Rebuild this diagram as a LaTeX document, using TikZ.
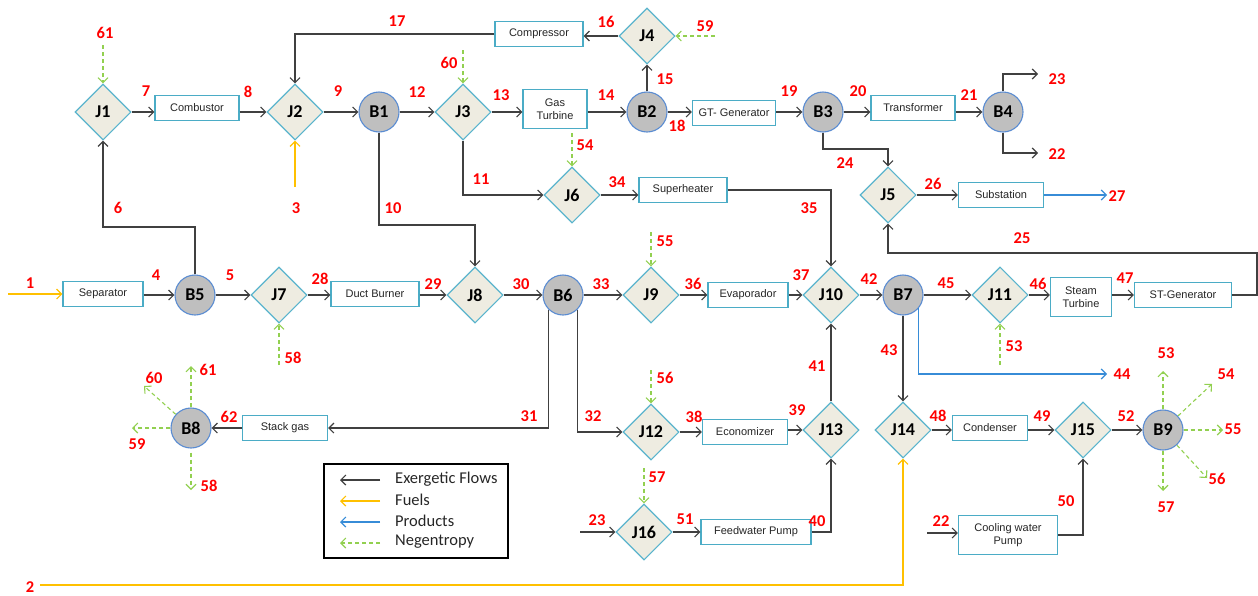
\documentclass[tikz,border=0pt]{standalone}
\usepackage{fontspec}
\setmainfont{Liberation Sans}
\newfontfamily\carl{Carlito}
\usetikzlibrary{arrows.meta,shapes.geometric}
\definecolor{boxc}{RGB}{75,172,198}
\definecolor{jfill}{RGB}{238,236,225}
\definecolor{jc}{RGB}{90,180,205}
\definecolor{bfill}{RGB}{191,191,191}
\definecolor{bc}{RGB}{90,140,210}
\definecolor{flowc}{RGB}{64,64,64}
\definecolor{fuelc}{RGB}{255,192,0}
\definecolor{prodc}{RGB}{55,140,215}
\definecolor{negc}{RGB}{146,208,80}
\definecolor{txtc}{RGB}{38,38,38}
\begin{document}
\begin{tikzpicture}[x=1pt,y=-1pt,
  >={Straight Barb[length=5pt,width=10pt]},
  box/.style={draw=boxc,line width=1.1pt,fill=white,inner sep=1pt,align=center,text=txtc,
    font=\fontsize{11}{13}\selectfont},
  jn/.style={diamond,aspect=1,draw=jc,line width=1.1pt,fill=jfill,minimum width=56pt,minimum height=56pt,
    inner sep=0pt,text=black,font=\carl\bfseries\fontsize{18}{18}\selectfont},
  bn/.style={circle,draw=bc,line width=1.1pt,fill=bfill,minimum size=40pt,inner sep=0pt,text=black,
    font=\carl\bfseries\fontsize{18}{18}\selectfont},
  lbl/.style={text=red,inner sep=0pt,font=\carl\bfseries\fontsize{16.5}{16.5}\selectfont},
  flow/.style={draw=flowc,line width=1.2pt,->},
  fuel/.style={draw=fuelc,line width=1.2pt,->},
  prod/.style={draw=prodc,line width=1.2pt,->},
  neg/.style={draw=negc,line width=1.1pt,dash pattern=on 4pt off 3pt,->},
  legtext/.style={anchor=west,inner sep=0pt,text=txtc,font=\carl\fontsize{16.5}{16.5}\selectfont}]
\useasboundingbox (0,0) rectangle (1258,595);

% ---------- nodes ----------
% row 1
\node[jn] (J1) at (103,112) {J1};
\node[box,minimum width=84pt,minimum height=25pt] (comb) at (197,108) {Combustor};
\node[jn] (J2) at (295,112) {J2};
\node[bn] (B1) at (379,112) {B1};
\node[jn] (J3) at (463,112) {J3};
\node[box,minimum width=64pt,minimum height=39pt] (gt) at (555,109) {Gas\\Turbine};
\node[bn] (B2) at (647,112) {B2};
\node[box,minimum width=83pt,minimum height=25pt] (gtg) at (734,113) {GT- Generator};
\node[bn] (B3) at (823,112) {B3};
\node[box,minimum width=84pt,minimum height=25pt] (trans) at (913,108) {Transformer};
\node[bn] (B4) at (1003,112) {B4};
% top
\node[box,minimum width=88pt,minimum height=25pt] (comp) at (539,34) {Compressor};
\node[jn] (J4) at (647,36) {J4};
% row 1.5
\node[jn] (J6) at (572,195) {J6};
\node[box,minimum width=88pt,minimum height=25pt] (sh) at (683,190) {Superheater};
\node[jn] (J5) at (888,195) {J5};
\node[box,minimum width=85pt,minimum height=25pt] (subst) at (1001,195) {Substation};
% row 2
\node[box,minimum width=80pt,minimum height=25pt] (sep) at (103,294) {Separator};
\node[bn] (B5) at (195,295) {B5};
\node[jn] (J7) at (279,295) {J7};
\node[box,minimum width=88pt,minimum height=25pt] (db) at (375,294) {Duct Burner};
\node[jn] (J8) at (475,295) {J8};
\node[bn] (B6) at (563,295) {B6};
\node[jn] (J9) at (651,295) {J9};
\node[box,minimum width=80pt,minimum height=25pt] (evap) at (748,295) {Evaporador};
\node[jn] (J10) at (831,295) {J10};
\node[bn] (B7) at (903,295) {B7};
\node[jn] (J11) at (1000,295) {J11};
\node[box,minimum width=61pt,minimum height=39pt] (st) at (1081,297) {Steam\\Turbine};
\node[box,minimum width=97pt,minimum height=25pt] (stg) at (1183,295) {ST-Generator};
% row 3
\node[bn] (B8) at (191,428) {B8};
\node[box,minimum width=85pt,minimum height=25pt] (stack) at (285,428) {Stack gas};
\node[jn] (J12) at (651,432) {J12};
\node[box,minimum width=85pt,minimum height=25pt] (econ) at (745,432) {Economizer};
\node[jn] (J13) at (831,430) {J13};
\node[jn] (J14) at (903,430) {J14};
\node[box,minimum width=75pt,minimum height=25pt] (cond) at (990,428) {Condenser};
\node[jn] (J15) at (1083,430) {J15};
\node[bn] (B9) at (1163,430) {B9};
% row 4
\node[jn] (J16) at (644,532) {J16};
\node[box,minimum width=110pt,minimum height=25pt] (fwp) at (756,532) {Feedwater Pump};
\node[box,minimum width=99pt,minimum height=39pt] (cwp) at (1008,535) {Cooling water\\Pump};

% ---------- free ends ----------
\coordinate (c23) at (1038,74);
\coordinate (c22) at (1038,153);
\coordinate (c59) at (715,36);
\coordinate (c60) at (463,50);
\coordinate (c61) at (103,45);
\coordinate (c3) at (295,187);
\coordinate (k10) at (379,225);
\coordinate (k24) at (823,149);
\coordinate (k25) at (1257,253);
\coordinate (c27) at (1107,195);
\coordinate (c1) at (8,294);
\coordinate (k6) at (195,227);
\coordinate (c58) at (279,365);
\coordinate (c55) at (651,232);
\coordinate (c53) at (1000,365);
\coordinate (c44) at (1107,374);
\coordinate (c56) at (651,370);
\coordinate (c57) at (644,468);
\coordinate (c23b) at (580,532);
\coordinate (c22b) at (927,533);
\coordinate (c2) at (40,585);
\coordinate (o61) at (191,366);
\coordinate (o60) at (144,386);
\coordinate (o59) at (132,428);
\coordinate (o58) at (191,490);
\coordinate (o53) at (1163,371);
\coordinate (o54) at (1212,384);
\coordinate (o55) at (1223,430);
\coordinate (o56) at (1207,478);
\coordinate (o57) at (1163,491);

% ---------- connectors ----------
\draw[flow] (J1.east) -- (J1.east -| comb.west);
\draw[flow] (comb.east |- J2.west) -- (J2.west);
\draw[flow] (J2.east) -- (B1.west);
\draw[flow] (B1.east) -- (J3.west);
\draw[flow] (J3.east) -- (J3.east -| gt.west);
\draw[flow] (gt.east |- B2.west) -- (B2.west);
\draw[flow] (B2.east) -- (B2.east -| gtg.west);
\draw[flow] (gtg.east |- B3.west) -- (B3.west);
\draw[flow] (B3.east) -- (B3.east -| trans.west);
\draw[flow] (trans.east |- B4.west) -- (B4.west);
\draw[flow] (B4.north) |- (c23);
\draw[flow] (B4.south) |- (c22);
\draw[flow] (B2.north) -- (J4.south);
\draw[flow] (J4.west) -- (J4.west -| comp.east);
\draw[flow] (comp.west) -| (J2.north);
\draw[neg] (c59) -- (J4.east);
\draw[neg] (c60) -- (J3.north);
\draw[neg] (c61) -- (J1.north);
\draw[fuel] (c3) -- (J2.south);
\draw[flow] (J3.south) |- (J6.west);
\draw[neg] ([yshift=-4pt]gt.south -| J6.north) -- (J6.north);
\draw[flow] (J6.east) -- (J6.east -| sh.west);
\draw[flow] (sh.east) -| (J10.north);
\draw[flow] (B1.south) -- (k10) -| (J8.north);
\draw[flow] (B3.south) -- (k24) -| (J5.north);
\draw[flow] (J5.east) -- (J5.east -| subst.west);
\draw[prod] (subst.east) -- (c27);
\draw[flow] (stg.east) -| (k25) -| (J5.south);
% row 2
\draw[fuel] (c1) -- (c1 -| sep.west);
\draw[flow] (sep.east |- B5.west) -- (B5.west);
\draw[flow] (B5.east) -- (J7.west);
\draw[flow] (J7.east) -- (J7.east -| db.west);
\draw[flow] (db.east |- J8.west) -- (J8.west);
\draw[flow] (J8.east) -- (B6.west);
\draw[flow] (B6.east) -- (J9.west);
\draw[flow] (J9.east) -- (J9.east -| evap.west);
\draw[flow] (evap.east |- J10.west) -- (J10.west);
\draw[flow] (J10.east) -- (B7.west);
\draw[flow] (B7.east) -- (J11.west);
\draw[flow] (J11.east) -- (J11.east -| st.west);
\draw[flow] (st.east |- stg.west) -- (stg.west);
\draw[flow] (B5.north) -- (k6) -| (J1.south);
\draw[neg] (c58) -- (J7.south);
\draw[neg] (c55) -- (J9.north);
\draw[neg] (c53) -- (J11.south);
\draw[prod] (B7.-41) |- (c44);
\draw[flow] (B7.south) -- (J14.north);
% row 3
\draw[flow] (B6.-134) |- (stack.east);
\draw[flow] (B6.-46) |- (J12.west);
\draw[flow] (stack.west) -- (B8.east);
\draw[neg] (B8) -- (o61);
\draw[neg] (B8) -- (o60);
\draw[neg] (B8) -- (o59);
\draw[neg] ([yshift=-4pt]B8.south) -- (o58);
\draw[flow] (J12.east) -- (J12.east -| econ.west);
\draw[flow] (econ.east |- J13.west) -- (J13.west);
\draw[flow] (J13.north) -- (J10.south);
\draw[neg] (c56) -- (J12.north);
\draw[neg] (c57) -- (J16.north);
\draw[flow] (J14.east) -- (J14.east -| cond.west);
\draw[flow] (cond.east |- J15.west) -- (J15.west);
\draw[flow] (J15.east) -- (B9.west);
\draw[neg] (B9) -- (o53);
\draw[neg] (B9) -- (o54);
\draw[neg] (B9) -- (o55);
\draw[neg] (B9) -- (o56);
\draw[neg] (B9) -- (o57);
% row 4
\draw[flow] (c23b) -- (J16.west);
\draw[flow] (J16.east) -- (J16.east -| fwp.west);
\draw[flow] (fwp.east) -| (J13.south);
\draw[flow] (c22b) -- (c22b -| cwp.west);
\draw[flow] (cwp.east) -| (J15.south);
\draw[fuel] (c2) -| (J14.south);

% ---------- labels ----------
\node[lbl] (l1) at (30,283) {1};
\node[lbl] (l2) at (30,587) {2};
\node[lbl] (l3) at (296,208) {3};
\node[lbl] (l4) at (156,275) {4};
\node[lbl] (l5) at (230,275) {5};
\node[lbl] (l6) at (118,208) {6};
\node[lbl] (l7) at (146,91) {7};
\node[lbl] (l8) at (248,92) {8};
\node[lbl] (l9) at (338,91) {9};
\node[lbl] (l10) at (393,208) {10};
\node[lbl] (l11) at (481,179) {11};
\node[lbl] (l12) at (417,92) {12};
\node[lbl] (l13) at (501,95) {13};
\node[lbl] (l14) at (606,95) {14};
\node[lbl] (l15) at (665,79) {15};
\node[lbl] (l16) at (606,22) {16};
\node[lbl] (l17) at (397,21) {17};
\node[lbl] (l18) at (677,126) {18};
\node[lbl] (l19) at (789,91) {19};
\node[lbl] (l20) at (858,91) {20};
\node[lbl] (l21) at (969,95) {21};
\node[lbl] (l22) at (1057,154) {22};
\node[lbl] (l23) at (1057,79) {23};
\node[lbl] (l24) at (845,163) {24};
\node[lbl] (l25) at (1022,238) {25};
\node[lbl] (l26) at (933,184) {26};
\node[lbl] (l27) at (1117,196) {27};
\node[lbl] (l28) at (320,279) {28};
\node[lbl] (l29) at (433,284) {29};
\node[lbl] (l30) at (521,284) {30};
\node[lbl] (l31) at (529,416) {31};
\node[lbl] (l32) at (593,416) {32};
\node[lbl] (l33) at (601,284) {33};
\node[lbl] (l34) at (617,182) {34};
\node[lbl] (l35) at (809,208) {35};
\node[lbl] (l36) at (693,284) {36};
\node[lbl] (l37) at (801,275) {37};
\node[lbl] (l38) at (694,417) {38};
\node[lbl] (l39) at (797,410) {39};
\node[lbl] (l40) at (817,521) {40};
\node[lbl] (l41) at (817,366) {41};
\node[lbl] (l42) at (869,279) {42};
\node[lbl] (l43) at (889,350) {43};
\node[lbl] (l44) at (1122,374) {44};
\node[lbl] (l45) at (946,283) {45};
\node[lbl] (l46) at (1038,284) {46};
\node[lbl] (l47) at (1125,278) {47};
\node[lbl] (l48) at (938,416) {48};
\node[lbl] (l49) at (1042,416) {49};
\node[lbl] (l50) at (1066,501) {50};
\node[lbl] (l51) at (685,519) {51};
\node[lbl] (l52) at (1126,416) {52};
\node[lbl] (l53) at (1014,346) {53};
\node[lbl] (l53b) at (1166,353) {53};
\node[lbl] (l54) at (585,145) {54};
\node[lbl] (l54b) at (1226,374) {54};
\node[lbl] (l55) at (665,241) {55};
\node[lbl] (l55b) at (1233,429) {55};
\node[lbl] (l56) at (665,378) {56};
\node[lbl] (l56b) at (1217,479) {56};
\node[lbl] (l57) at (657,477) {57};
\node[lbl] (l57b) at (1166,507) {57};
\node[lbl] (l58) at (293,358) {58};
\node[lbl] (l58b) at (209,486) {58};
\node[lbl] (l59) at (705,26) {59};
\node[lbl] (l59b) at (137,444) {59};
\node[lbl] (l60) at (449,63) {60};
\node[lbl] (l60b) at (154,378) {60};
\node[lbl] (l61) at (105,33) {61};
\node[lbl] (l61b) at (208,370) {61};
\node[lbl] (l62) at (229,417) {62};
\node[lbl] (l22b) at (941,521) {22};
\node[lbl] (l23b) at (597,520) {23};

% ---------- legend ----------
\node[draw=black,line width=2.6pt,minimum width=184pt,minimum height=94pt,inner sep=0pt] (leg) at (416,511) {};
\coordinate (g1a) at (340,480); \coordinate (g1b) at (380,480);
\coordinate (g2a) at (340,501); \coordinate (g2b) at (380,501);
\coordinate (g3a) at (340,522); \coordinate (g3b) at (380,522);
\coordinate (g4a) at (340,543); \coordinate (g4b) at (380,543);
\draw[flow] (g1b) -- (g1a);
\draw[fuel] (g2b) -- (g2a);
\draw[prod] (g3b) -- (g3a);
\draw[neg] (g4b) -- (g4a);
\node[legtext] (t1) at (395,479) {Exergetic Flows};
\node[legtext] (t2) at (395,500) {Fuels};
\node[legtext] (t3) at (395,521) {Products};
\node[legtext] (t4) at (395,542) {Negentropy};
\end{tikzpicture}
\end{document}
